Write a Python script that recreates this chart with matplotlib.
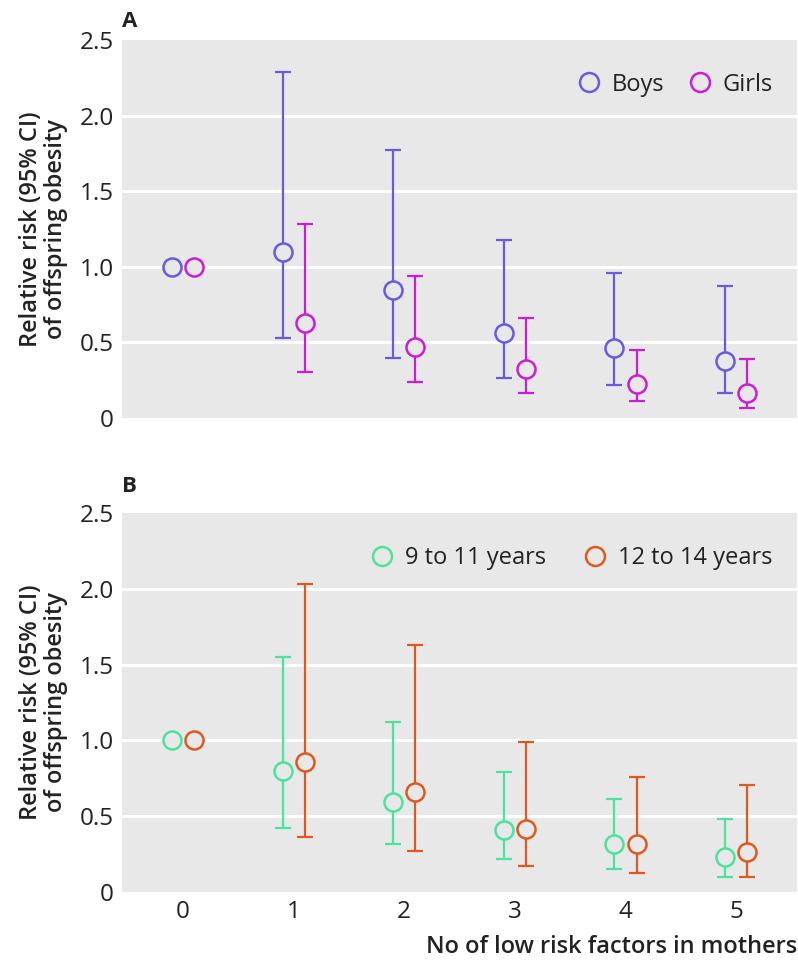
import matplotlib
matplotlib.use("Agg")
import matplotlib.pyplot as plt
import numpy as np

plt.rcParams['font.family'] = ['Open Sans', 'DejaVu Sans']

categories = [0, 1, 2, 3, 4, 5]

# Panel A
boys_rr = [1.0, 1.10, 0.85, 0.56, 0.46, 0.38]
boys_lo = [1.0, 0.53, 0.40, 0.265, 0.22, 0.163]
boys_hi = [1.0, 2.29, 1.77, 1.175, 0.96, 0.87]
girls_rr = [1.0, 0.626, 0.47, 0.324, 0.223, 0.163]
girls_lo = [1.0, 0.306, 0.236, 0.165, 0.114, 0.064]
girls_hi = [1.0, 1.28, 0.94, 0.663, 0.447, 0.392]

# Panel B
y911_rr = [1.0, 0.80, 0.59, 0.41, 0.313, 0.231]
y911_lo = [1.0, 0.42, 0.315, 0.214, 0.152, 0.10]
y911_hi = [1.0, 1.55, 1.12, 0.79, 0.613, 0.483]
y1214_rr = [1.0, 0.857, 0.66, 0.414, 0.313, 0.262]
y1214_lo = [1.0, 0.36, 0.27, 0.172, 0.123, 0.095]
y1214_hi = [1.0, 2.03, 1.63, 0.99, 0.756, 0.706]

yticks = [0, 0.5, 1.0, 1.5, 2.0, 2.5]
ytick_labels = ["0", "0.5", "1.0", "1.5", "2.0", "2.5"]
xtick_labels = ["0", "1", "2", "3", "4", "5"]

C_BOYS = "#6a5ae0"
C_GIRLS = "#c81ed8"
C_GREEN = "#4de39c"
C_ORANGE = "#dc5a20"

fig = plt.figure(figsize=(7.98, 9.67), dpi=100)
axA = fig.add_axes([0.153, 0.5677, 0.8457, 0.3909])
axB = fig.add_axes([0.153, 0.0779, 0.8457, 0.3913])

def draw(ax, series, show_x, colsp):
    ax.set_facecolor("#e8e8e8")
    for s in ax.spines.values():
        s.set_visible(False)
    ax.set_xlim(-0.55, 5.55)
    ax.set_ylim(0, 2.5)
    ax.set_yticks(yticks)
    ax.set_yticklabels(ytick_labels)
    for y in [0.5, 1.0, 1.5, 2.0]:
        ax.axhline(y, color="white", lw=2.2, zorder=1)
    ax.tick_params(axis="both", length=0, labelsize=17.5, colors="#222222", pad=6)
    x = np.array(categories, dtype=float)
    handles = []
    for off, rr, lo, hi, col, lab in series:
        rr = np.array(rr); lo = np.array(lo); hi = np.array(hi)
        xs = x + off
        mask = hi > rr
        ax.errorbar(xs[mask], rr[mask], yerr=[rr[mask] - lo[mask], hi[mask] - rr[mask]],
                    fmt="none", ecolor=col, elinewidth=1.6, capsize=6, capthick=1.6, zorder=2)
        h, = ax.plot(xs, rr, "o", ms=13, mfc="#e8e8e8", mec=col, mew=1.8, zorder=3,
                     linestyle="none", label=lab)
        handles.append(h)
    if show_x:
        ax.set_xticks(categories)
        ax.set_xticklabels(xtick_labels)
    else:
        ax.set_xticks([])
    leg = ax.legend(handles=handles, loc="upper right", ncol=2, frameon=False,
                    fontsize=17, handletextpad=0.45, columnspacing=colsp,
                    bbox_to_anchor=(0.995, 0.97), handlelength=1.0, markerscale=1.05)
    for t in leg.get_texts():
        t.set_color("#222222")
    ax.set_ylabel("Relative risk (95% CI)\nof offspring obesity", fontsize=17,
                  fontweight="semibold", color="#222222", labelpad=8, linespacing=1.05)

draw(axA, [(-0.1, boys_rr, boys_lo, boys_hi, C_BOYS, "Boys"),
           (0.1, girls_rr, girls_lo, girls_hi, C_GIRLS, "Girls")], False, 1.0)
draw(axB, [(-0.1, y911_rr, y911_lo, y911_hi, C_GREEN, "9 to 11 years"),
           (0.1, y1214_rr, y1214_lo, y1214_hi, C_ORANGE, "12 to 14 years")], True, 1.6)

axB.set_xlabel("No of low risk factors in mothers", fontsize=17, fontweight="semibold",
               color="#222222", loc="right", labelpad=8)

fig.text(0.153, 0.978, "A", fontsize=16, fontweight="bold", color="#222222", va="center", ha="left")
fig.text(0.153, 0.497, "B", fontsize=16, fontweight="bold", color="#222222", va="center", ha="left")

fig.savefig("out.png", dpi=100, facecolor="white")
